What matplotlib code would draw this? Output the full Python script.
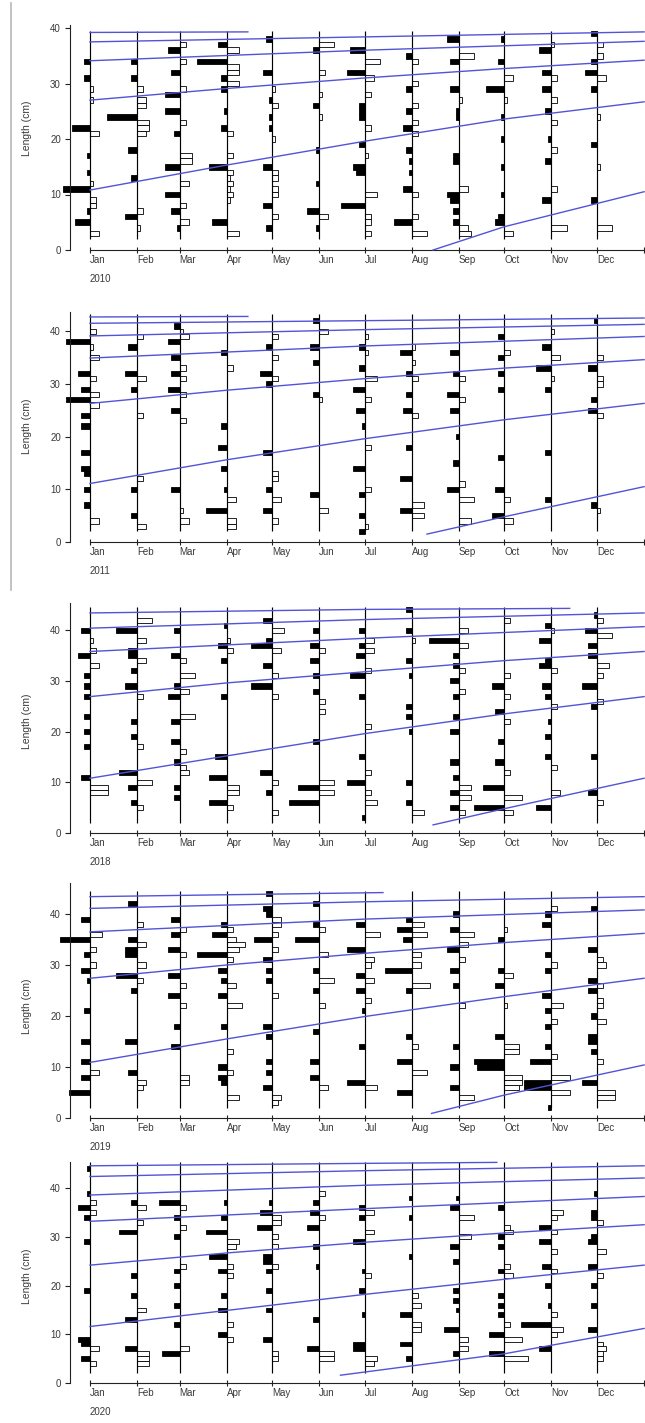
import matplotlib
matplotlib.use("Agg")
import matplotlib.pyplot as plt
from matplotlib.lines import Line2D

plt.rcParams['font.family'] = ['Liberation Sans', 'DejaVu Sans']

MONTHS = ["Jan", "Feb", "Mar", "Apr", "May", "Jun",
          "Jul", "Aug", "Sep", "Oct", "Nov", "Dec"]
MONTH_START = [0, 31, 59, 90, 120, 151, 181, 212, 243, 273, 304, 334]
YEAR_END = 365
YEARS = ["2010", "2011", "2018", "2019", "2020"]

# Restructured length-frequency scores, one list per monthly sample:
# (length class in cm, score). Negative scores = peaks (black, drawn left),
# positive scores = troughs (white, drawn right).
LFQ_2010 = [
    [(34, -2), (31, -2), (29, 1), (27, 1), (22, -6), (21, 3), (17, -1), (14, -1), (12, 1), (11, -9), (9, 2), (8, 2), (7, -1), (5, -5), (3, 3)],
    [(34, -2), (31, -2), (29, 2), (27, 3), (26, 3), (24, -10), (23, 4), (22, 4), (21, 3), (18, -3), (13, -2), (7, 2), (6, -4), (4, 1)],
    [(37, 2), (36, -4), (34, 2), (32, -3), (29, 2), (28, -5), (25, -5), (23, 2), (21, -2), (17, 4), (16, 4), (15, -5), (12, 3), (10, -5), (8, 2), (7, -3), (5, 3), (4, -1)],
    [(37, -3), (36, 4), (34, -10), (33, 4), (32, 4), (31, -2), (30, 4), (29, -2), (25, -1), (22, -2), (21, 2), (17, 2), (15, -6), (14, 2), (13, 1), (12, 2), (11, 1), (10, 2), (9, 1), (5, -5), (3, 4)],
    [(38, -2), (32, -3), (29, 1), (27, -1), (26, 2), (24, -1), (22, -1), (20, 1), (15, -3), (14, 2), (13, 2), (11, 2), (10, 2), (8, -3), (6, 2), (4, -2)],
    [(37, 5), (36, -2), (32, 2), (28, 1), (26, -2), (24, 1), (18, -1), (12, -1), (7, -4), (6, 3), (4, -1)],
    [(36, -5), (34, 5), (32, -6), (31, 3), (28, 2), (26, -2), (25, -2), (24, -2), (22, 2), (19, -2), (17, 1), (15, -4), (14, -3), (10, 4), (8, -8), (6, 2), (5, 2), (3, 2)],
    [(35, -2), (34, 2), (30, 2), (29, -2), (26, 2), (25, -2), (23, 2), (22, -3), (21, 2), (18, -2), (16, -1), (14, -1), (11, -3), (10, 2), (6, 2), (5, -6), (3, 5)],
    [(38, -4), (35, 5), (34, -3), (29, -3), (27, 1), (25, -1), (24, -1), (17, -2), (16, -2), (11, 3), (10, -4), (9, -3), (7, -2), (5, -2), (4, 3), (3, 4)],
    [(38, -1), (34, -2), (31, 3), (29, -6), (27, 1), (24, -1), (20, -1), (15, -1), (10, -1), (6, -2), (5, -3), (3, 3)],
    [(37, 1), (36, -4), (32, -3), (31, 2), (29, -3), (27, 2), (25, -2), (23, 2), (20, -1), (18, 2), (16, -2), (11, 2), (9, -3), (4, 5)],
    [(39, -2), (37, 2), (35, 2), (34, -2), (32, -4), (31, 3), (29, -2), (24, 1), (19, -2), (15, 1), (9, -2), (4, 5)],
]
LFQ_2011 = [
    [(40, 2), (38, -8), (37, 1), (35, 3), (32, -4), (31, 2), (29, -3), (28, 3), (27, -8), (26, 3), (24, -3), (22, -3), (17, -3), (14, -3), (13, -2), (10, -2), (7, -2), (4, 3)],
    [(39, 2), (37, -3), (32, -4), (31, 3), (29, -2), (24, 2), (12, 2), (10, -2), (5, -2), (3, 3)],
    [(41, -2), (40, 1), (39, 3), (38, -4), (35, -3), (33, 2), (32, -3), (31, 2), (29, -4), (28, 2), (25, -3), (23, 2), (10, -3), (6, 1), (4, 3)],
    [(36, -2), (33, 2), (22, -2), (18, -3), (14, -2), (10, -1), (8, 3), (6, -7), (4, 3), (3, 3)],
    [(39, 2), (37, -2), (35, 2), (32, -4), (31, 2), (30, -2), (17, -3), (13, 2), (12, 2), (10, -2), (8, 3), (6, -3), (4, 2)],
    [(42, -2), (40, 3), (37, -3), (34, -2), (28, -2), (27, 1), (9, -3), (6, 3)],
    [(39, 1), (37, -2), (36, 1), (33, -2), (31, 4), (29, -4), (27, 2), (25, -3), (22, -1), (18, 2), (14, -4), (10, 2), (9, -2), (5, -2), (3, 1), (2, -2)],
    [(37, 1), (36, -4), (34, 1), (32, -2), (31, 2), (28, -2), (25, -3), (24, 2), (18, -2), (12, -4), (7, 4), (6, -4), (5, 4)],
    [(36, -3), (32, -2), (31, 2), (28, -4), (27, 2), (25, -3), (20, -1), (15, -2), (11, 2), (10, -4), (8, 5), (4, 4)],
    [(39, -2), (36, 2), (35, -2), (32, -2), (29, -2), (16, -2), (10, -3), (8, 2), (5, -4), (4, 3)],
    [(40, 1), (37, -3), (35, 3), (33, -5), (31, 1), (29, -2), (17, -2), (8, -2)],
    [(42, -1), (35, 2), (33, -3), (31, 2), (30, 2), (27, -2), (25, -3), (24, 2), (7, -2), (6, 1)],
]
LFQ_2018 = [
    [(40, -3), (38, 1), (36, 2), (35, -4), (33, 3), (31, -2), (29, -2), (27, -2), (23, -2), (20, -2), (17, -2), (11, -3), (9, 6), (8, 6)],
    [(42, 5), (40, -7), (38, 3), (36, -3), (35, -3), (34, 3), (32, -2), (29, -4), (27, 2), (22, -2), (19, -2), (17, 2), (12, -6), (10, 5), (9, -3), (6, -2), (5, 2)],
    [(40, -2), (35, -3), (34, 2), (31, 5), (29, -2), (28, 3), (27, -4), (23, 5), (22, -3), (18, -3), (16, 2), (14, -2), (13, 2), (12, 3), (9, -2), (7, -2)],
    [(41, -1), (38, 1), (37, -3), (36, 2), (34, -2), (27, -2), (15, -4), (11, -6), (9, 4), (8, 4), (6, -6), (5, 2)],
    [(42, -3), (40, 4), (38, -2), (37, -7), (36, 3), (33, -3), (31, 2), (29, -7), (27, 2), (12, -4), (10, 2), (8, -2), (4, 2)],
    [(40, -2), (37, -3), (36, 2), (34, -3), (31, -2), (28, -2), (26, 2), (24, 2), (18, -2), (10, 5), (9, -7), (8, 5), (6, -10)],
    [(40, -2), (38, 3), (37, -2), (36, 3), (35, -3), (32, 2), (31, -5), (27, -2), (21, 2), (15, -2), (12, 2), (10, -6), (8, 2), (6, 4), (3, -1)],
    [(44, -2), (40, -2), (38, 1), (34, -2), (31, -1), (25, -2), (23, -2), (20, -1), (10, -2), (6, -2), (4, 4)],
    [(40, 3), (38, -10), (37, 3), (35, -2), (33, -2), (32, 2), (30, -3), (28, 2), (27, -2), (23, -2), (20, -3), (14, -3), (11, -2), (9, 4), (8, -3), (7, 4), (5, -3), (4, 2)],
    [(42, 2), (31, 2), (29, -4), (27, 2), (24, -3), (22, 2), (18, -2), (14, -3), (12, 2), (9, -7), (7, 6), (5, -10), (4, 3)],
    [(41, -2), (40, 1), (38, -4), (34, -2), (33, -4), (32, 2), (29, -3), (27, -2), (25, 2), (22, -1), (19, -2), (15, -2), (13, 2), (8, 3), (5, -5)],
    [(43, -1), (42, 2), (40, -4), (39, 5), (37, -3), (35, -3), (33, 4), (31, 2), (29, -5), (26, 2), (25, -2), (15, -2), (8, -3), (6, 2)],
]
LFQ_2019 = [
    [(39, -3), (36, 4), (35, -10), (33, 2), (32, -2), (30, 2), (29, -3), (27, -1), (21, -2), (15, -3), (11, -3), (9, 3), (8, -3), (5, -7)],
    [(42, -3), (38, 2), (35, -3), (34, 3), (33, -4), (32, -4), (30, 3), (28, -7), (27, 2), (25, -2), (15, -4), (9, -3), (7, 3), (6, 2)],
    [(39, -3), (37, 2), (36, -3), (33, -4), (32, 2), (28, -4), (26, 2), (24, -4), (22, 2), (18, -2), (14, -3), (8, 3), (7, 3)],
    [(38, -2), (37, 2), (36, -5), (35, 3), (34, 6), (33, 4), (32, -10), (31, 2), (29, -3), (27, -2), (26, 3), (24, -3), (22, 5), (18, -2), (13, 2), (10, -3), (9, 2), (8, -3), (7, -2), (4, 4)],
    [(44, -2), (41, -3), (40, -2), (39, 3), (38, 3), (36, 2), (35, -6), (33, 2), (31, -3), (29, -2), (27, -2), (24, 2), (18, -3), (16, -2), (11, -2), (9, -2), (6, -3), (4, 3), (3, 2)],
    [(42, -2), (38, -2), (37, 2), (35, -8), (32, 3), (29, -2), (27, 5), (25, -2), (22, 2), (17, -2), (11, -3), (8, -3), (6, 3)],
    [(38, -3), (36, 5), (33, -6), (31, 3), (30, 2), (28, -3), (27, 3), (25, -3), (23, 2), (21, -1), (14, -2), (7, -6), (6, 4)],
    [(39, -2), (38, 4), (37, -5), (36, 5), (35, -3), (32, 3), (30, 3), (29, -9), (26, 6), (25, -2), (16, -2), (14, 2), (11, -5), (9, 5), (5, -5)],
    [(40, -2), (37, -3), (36, 5), (34, 3), (33, -4), (31, 2), (29, -3), (26, -2), (22, 2), (14, -2), (10, -3), (6, -3), (4, 5)],
    [(37, 1), (35, -2), (29, -2), (28, 3), (26, -3), (22, 1), (16, -3), (14, 5), (13, 5), (11, -10), (10, -9), (8, 6), (7, 6), (6, 5)],
    [(41, 2), (40, -2), (38, -3), (32, -2), (30, 2), (29, -2), (24, -3), (22, 4), (21, -2), (19, 2), (18, -2), (14, -2), (12, 2), (11, -7), (8, 6), (7, -9), (6, -9), (5, 6), (2, -1)],
    [(41, -2), (33, -3), (31, 2), (30, 3), (27, -3), (26, 2), (25, -3), (23, 2), (22, 2), (20, -2), (19, 3), (16, -3), (15, -3), (13, -2), (11, 2), (7, -5), (5, 6), (4, 6)],
]
LFQ_2020 = [
    [(44, -1), (39, -1), (37, 2), (36, -4), (35, 2), (34, -2), (29, -2), (19, -2), (9, -4), (8, -3), (7, 3), (5, -3), (4, 2)],
    [(37, -2), (36, 3), (33, 2), (31, -6), (22, -2), (18, -2), (15, 3), (13, -4), (7, -4), (6, 4), (5, 4), (4, 4)],
    [(37, -7), (36, 2), (34, -2), (32, 2), (30, -2), (24, 2), (23, -2), (20, -2), (16, -2), (12, -2), (7, 3), (6, -6)],
    [(37, -1), (34, -2), (31, -7), (29, 4), (28, 3), (26, -6), (24, 2), (23, -3), (22, 2), (18, -2), (15, -3), (12, 2), (10, -3), (9, 2)],
    [(37, -1), (35, -4), (34, 3), (33, 3), (32, -5), (30, 2), (28, 2), (26, -3), (25, -3), (24, 2), (23, -2), (19, -2), (15, -2), (9, -3), (6, 2), (5, 2)],
    [(39, 2), (37, -2), (35, -3), (34, 2), (32, -4), (28, -2), (24, -1), (13, -2), (7, -4), (6, 5), (5, 5)],
    [(36, -2), (35, 3), (34, -2), (31, 3), (29, -4), (23, -1), (22, 2), (19, -2), (14, -1), (8, -4), (7, -4), (5, 4), (4, 3)],
    [(38, -1), (34, -1), (26, -1), (18, 2), (16, 3), (14, -4), (12, 3), (11, 3), (8, -4), (5, -2)],
    [(38, -1), (36, -3), (34, 5), (30, 4), (28, -3), (25, -2), (19, -2), (17, -2), (15, -1), (11, -5), (9, 3), (7, 3), (6, -2)],
    [(36, -2), (32, 2), (31, 3), (30, -2), (28, -2), (24, 2), (23, -2), (22, 3), (18, -2), (16, -2), (14, -2), (12, 2), (10, -5), (9, 6), (6, -5), (5, 8)],
    [(35, 4), (34, 2), (32, -4), (31, 2), (29, -4), (27, 2), (24, -3), (23, 2), (20, -2), (16, -1), (14, 2), (12, -10), (11, 4), (10, 2), (7, -4)],
    [(39, -1), (35, -2), (34, -2), (33, 2), (30, -2), (29, -3), (27, 3), (24, -3), (22, 2), (20, -2), (16, -2), (11, -3), (8, 2), (7, 3), (6, 2), (5, 2)],
]

# Cohort growth curves: (day of year, length in cm)
GROWTH_2010 = [
    [(0, 39.2), (104, 39.3)],
    [(0, 37.5), (181, 38.4), (365, 39.3)],
    [(0, 34.1), (181, 36.0), (365, 37.6)],
    [(0, 27.0), (90, 29.1), (181, 31.0), (273, 32.7), (365, 34.2)],
    [(0, 10.8), (90, 15.3), (181, 19.6), (273, 23.6), (365, 26.7)],
    [(226, 0.0), (273, 4.2), (365, 10.5)],
]
GROWTH_2011 = [
    [(0, 42.7), (104, 42.8)],
    [(0, 41.5), (181, 42.0), (365, 42.5)],
    [(0, 39.1), (181, 40.3), (365, 41.3)],
    [(0, 34.9), (181, 37.2), (365, 39.0)],
    [(0, 26.3), (90, 28.8), (181, 31.0), (273, 33.0), (365, 34.6)],
    [(0, 11.1), (90, 15.6), (181, 19.6), (273, 23.2), (365, 26.3)],
    [(222, 1.5), (273, 4.8), (365, 10.5)],
]
GROWTH_2018 = [
    [(0, 43.4), (181, 44.1), (316, 44.3)],
    [(0, 40.4), (181, 42.1), (365, 43.4)],
    [(0, 35.8), (181, 38.4), (365, 40.7)],
    [(0, 26.9), (90, 29.6), (181, 31.8), (273, 34.0), (365, 35.8)],
    [(0, 10.8), (90, 15.2), (181, 19.6), (273, 23.5), (365, 26.9)],
    [(226, 1.6), (273, 4.8), (365, 10.8)],
]
GROWTH_2019 = [
    [(0, 43.4), (193, 44.2)],
    [(0, 41.1), (181, 42.4), (365, 43.4)],
    [(0, 36.5), (181, 39.0), (365, 40.8)],
    [(0, 27.4), (90, 30.0), (181, 32.3), (273, 34.4), (365, 36.2)],
    [(0, 10.9), (90, 15.5), (181, 19.9), (273, 23.8), (365, 27.4)],
    [(225, 0.9), (273, 4.5), (365, 10.4)],
]
GROWTH_2020 = [
    [(0, 44.6), (181, 45.1), (268, 45.3)],
    [(0, 42.4), (181, 43.6), (365, 44.6)],
    [(0, 38.6), (181, 40.6), (365, 42.1)],
    [(0, 33.2), (181, 35.8), (365, 38.3)],
    [(0, 24.2), (90, 26.7), (181, 28.9), (273, 30.8), (365, 32.5)],
    [(0, 11.6), (90, 14.9), (181, 18.2), (273, 21.3), (365, 24.2)],
    [(165, 1.6), (273, 6.0), (365, 11.2)],
]

LFQ = [LFQ_2010, LFQ_2011, LFQ_2018, LFQ_2019, LFQ_2020]
GROWTH = [GROWTH_2010, GROWTH_2011, GROWTH_2018, GROWTH_2019, GROWTH_2020]

# ---- layout (pixels on a 645 x 1423 canvas) ----
W, H = 645, 1423
X_JAN, PX_PER_DAY = 90.0, 1.518
# per panel: pixel row of length 0, pixels per cm, top of y axis, top of sample lines
PANELS = [
    (250, 5.55, 40.5, 39.5),
    (542, 5.27, 43.6, 43.2),
    (833, 5.07, 45.4, 44.6),
    (1118, 5.10, 46.0, 44.6),
    (1383, 4.87, 45.4, 45.3),
]
SCORE_DAYS = 1.98      # bar width in days per score unit
BLUE = "#5353d8"
TEXT = "#3a3a3a"

fig = plt.figure(figsize=(W / 100, H / 100), dpi=100)
xlo = -X_JAN / PX_PER_DAY
xhi = (W - X_JAN) / PX_PER_DAY
y_axis_x = (70 - X_JAN) / PX_PER_DAY
ylabel_x = (27 - X_JAN) / PX_PER_DAY

for year, lfq, curves, (y0, s, ax_top, line_top) in zip(YEARS, LFQ, GROWTH, PANELS):
    lo, hi = -6.0, 47.0
    bottom_px = y0 - lo * s
    top_px = y0 - hi * s
    ax = fig.add_axes([0, 1 - bottom_px / H, 1, (bottom_px - top_px) / H])
    ax.set_xlim(xlo, xhi)
    ax.set_ylim(lo, hi)
    ax.patch.set_visible(False)

    # histogram bars for every monthly sample
    for day, sample in zip(MONTH_START, lfq):
        peaks = [(l, v * SCORE_DAYS) for l, v in sample if v < 0]
        troughs = [(l, v * SCORE_DAYS) for l, v in sample if v > 0]
        if troughs:
            ax.barh([l for l, w in troughs], [w for l, w in troughs], left=day,
                    height=1.0, color="white", edgecolor="black", linewidth=0.6,
                    zorder=2)
        if peaks:
            ax.barh([l for l, w in peaks], [w for l, w in peaks], left=day,
                    height=1.0, color="black", edgecolor="black", linewidth=0.6,
                    zorder=2)
    ax.vlines(MONTH_START, 2.0, line_top, color="black", lw=0.85, zorder=3)

    # growth curves
    for curve in curves:
        ax.plot([d for d, l in curve], [l for d, l in curve], color=BLUE,
                lw=1.0, zorder=4, clip_on=False)

    # axes drawn in the style of base R plots
    for side in ("top", "right"):
        ax.spines[side].set_visible(False)
    ax.spines["left"].set_position(("data", y_axis_x))
    ax.spines["left"].set_bounds(0, ax_top)
    ax.spines["bottom"].set_position(("data", 0))
    ax.spines["bottom"].set_bounds(0, YEAR_END)
    for side in ("left", "bottom"):
        ax.spines[side].set_linewidth(0.8)
        ax.spines[side].set_color("#222222")

    ax.set_yticks([0, 10, 20, 30, 40])
    ax.set_yticklabels(["0", "10", "20", "30", "40"])
    ax.tick_params(axis="y", direction="out", length=3.6, width=0.8, pad=3,
                   labelsize=7, labelcolor=TEXT, color="#222222")
    ax.set_xticks(MONTH_START + [YEAR_END])
    ax.set_xticklabels(MONTHS + [""])
    ax.tick_params(axis="x", direction="inout", length=4, width=0.8, pad=1.5,
                   labelsize=7, labelcolor=TEXT, color="#222222")
    for lab in ax.get_xticklabels():
        lab.set_horizontalalignment("left")

    ax.text(ylabel_x, 22, "Length (cm)", rotation=90, ha="center", va="center",
            fontsize=7.5, color=TEXT)
    ax.annotate(year, xy=(0, 0), xytext=(0, -21), textcoords="offset points",
                ha="left", va="center", fontsize=7, color=TEXT)

# thin border left over along the upper two panels
fig.add_artist(Line2D([11 / W, 11 / W], [1 - 3 / H, 1 - 590 / H],
                      color="#b8b8b8", lw=1.2))

fig.savefig("out.png", dpi=100)
